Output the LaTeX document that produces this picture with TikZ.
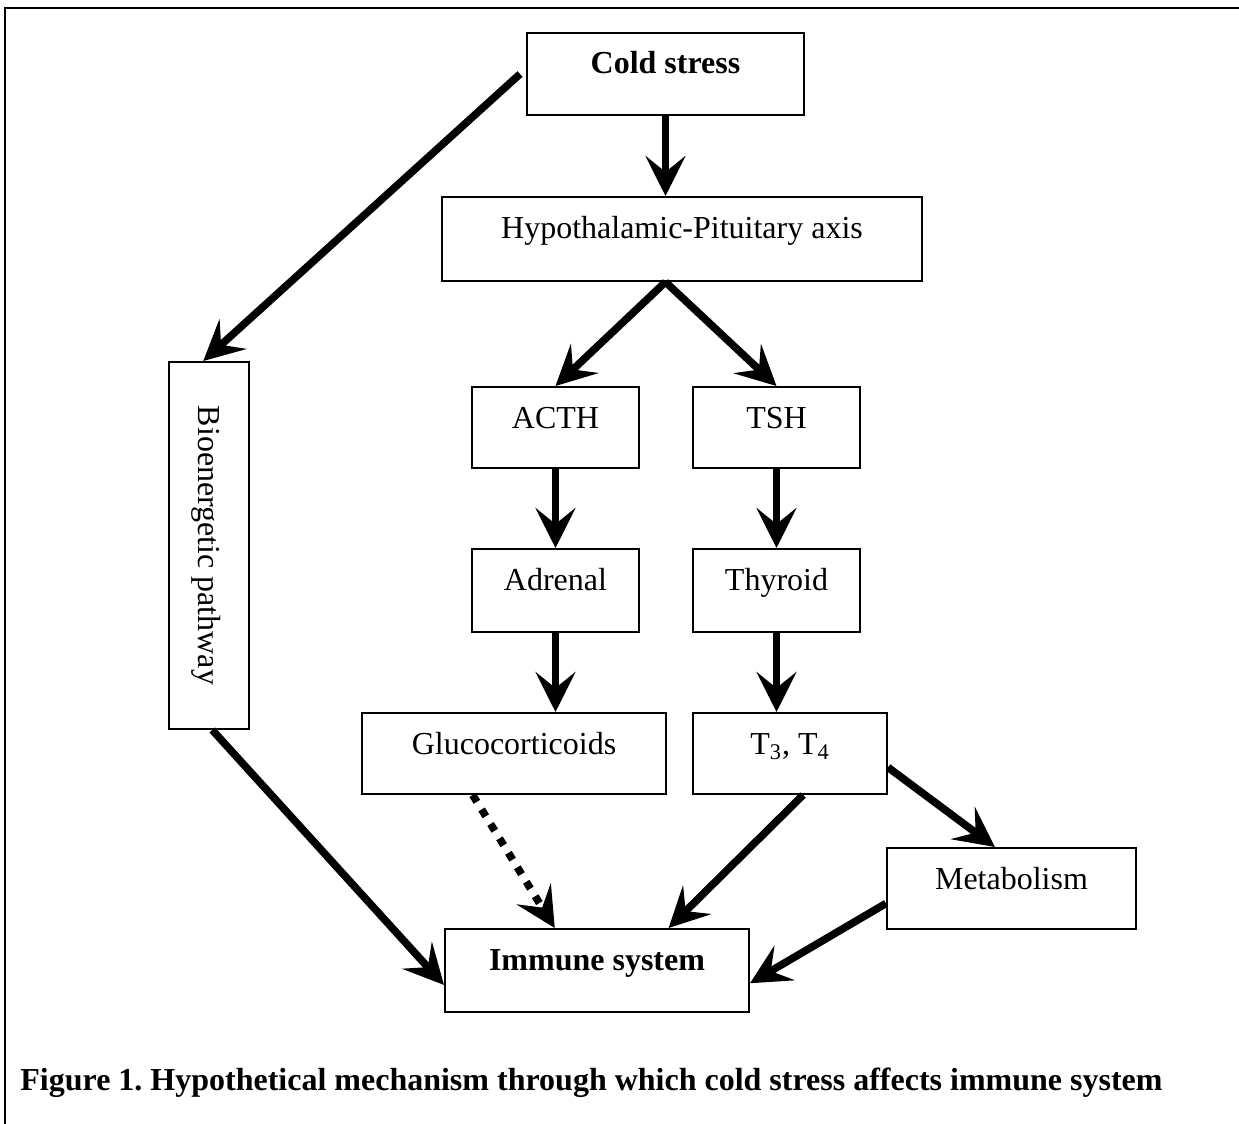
\documentclass[tikz,border=0pt]{standalone}
\usepackage{fontspec}
\setmainfont{Liberation Serif}
\usetikzlibrary{arrows.meta,calc}
\begin{document}
\frenchspacing
\begin{tikzpicture}[x=0.5pt,y=-0.5pt,
  font=\fontsize{16pt}{19pt}\selectfont,
  box/.style={draw, line width=1pt, inner sep=0pt, rectangle},
  lbl/.style={anchor=base, yshift=-21pt, inner sep=0pt},
  arr/.style={line width=3.8pt, -{Stealth[length=20pt,width=20pt,inset=8pt]}},
  dotarr/.style={arr, dash pattern=on 4pt off 4.5pt}]
\useasboundingbox (0,0) rectangle (1239,1124);
% frame
\draw[line width=1pt] (5,1124) -- (5,8) -- (1239,8);

% boxes
\node[box, minimum width=138.5pt, minimum height=41pt,
  label={[lbl]north:\textbf{Cold stress}}] (cs) at (665.5,74) {};
\node[box, minimum width=240pt, minimum height=42pt,
  label={[lbl]north:Hypothalamic-Pituitary axis}] (hpa) at (682,239) {};
\node[box, minimum width=83.5pt, minimum height=40.5pt,
  label={[lbl]north:ACTH}] (acth) at (555.5,427.5) {};
\node[box, minimum width=83.5pt, minimum height=40.5pt,
  label={[lbl]north:TSH}] (tsh) at (776.5,427.5) {};
\node[box, minimum width=83.5pt, minimum height=41.5pt,
  label={[lbl]north:Adrenal}] (adr) at (555.5,590.5) {};
\node[box, minimum width=83.5pt, minimum height=41.5pt,
  label={[lbl]north:Thyroid}] (thy) at (776.5,590.5) {};
\node[box, minimum width=152pt, minimum height=40.5pt,
  label={[lbl]north:Glucocorticoids}] (glu) at (514,753.5) {};
\node[box, minimum width=97pt, minimum height=40.5pt,
  label={[lbl]north:T\textsubscript{3}, T\textsubscript{4}}] (t34) at (790,753.5) {};
\node[box, minimum width=124.5pt, minimum height=40.5pt,
  label={[lbl]north:Metabolism}] (met) at (1011.5,888.5) {};
\node[box, minimum width=152pt, minimum height=41.5pt,
  label={[lbl]north:\textbf{Immune system}}] (imm) at (597,970.5) {};
\node[box, minimum width=40pt, minimum height=183.5pt] (bio) at (209,545.5) {};
\node[rotate=-90, anchor=base, inner sep=0pt] (biot) at (198,545.5) {Bioenergetic pathway};

% caption
\node[anchor=base west, inner sep=0pt] (cap) at (20,1090)
  {\textbf{Figure 1. Hypothetical mechanism through which cold stress affects immune system}};

% arrows
\draw[arr] (cs.south) -- (cs |- hpa.north);
\draw[arr] (cs |- hpa.south) -- (acth.north);
\draw[arr] (cs |- hpa.south) -- (tsh.north);
\draw[arr] (acth.south) -- (adr.north);
\draw[arr] (tsh.south) -- (thy.north);
\draw[arr] (adr.south) -- (adr |- glu.north);
\draw[arr] (thy.south) -- (thy |- t34.north);
\draw[arr] ([xshift=-3pt]cs.west) -- ($(bio.north west)!0.43!(bio.north east)$);
\draw[arr] ($(bio.south west)!0.54!(bio.south east)$) -- ($(imm.north west)!0.67!(imm.south west)$);
\draw[dotarr] ($(glu.south west)!0.365!(glu.south east)$) -- ($(imm.north west)!0.362!(imm.north east)$);
\draw[arr] ($(t34.south west)!0.567!(t34.south east)$) -- ($(imm.north west)!0.734!(imm.north east)$);
\draw[arr] ($(t34.north east)!0.667!(t34.south east)$) -- ($(met.north west)!0.434!(met.north east)$);
\draw[arr] ($(met.north west)!0.68!(met.south west)$) -- ($(imm.north east)!0.65!(imm.south east)$);
\end{tikzpicture}
\end{document}
